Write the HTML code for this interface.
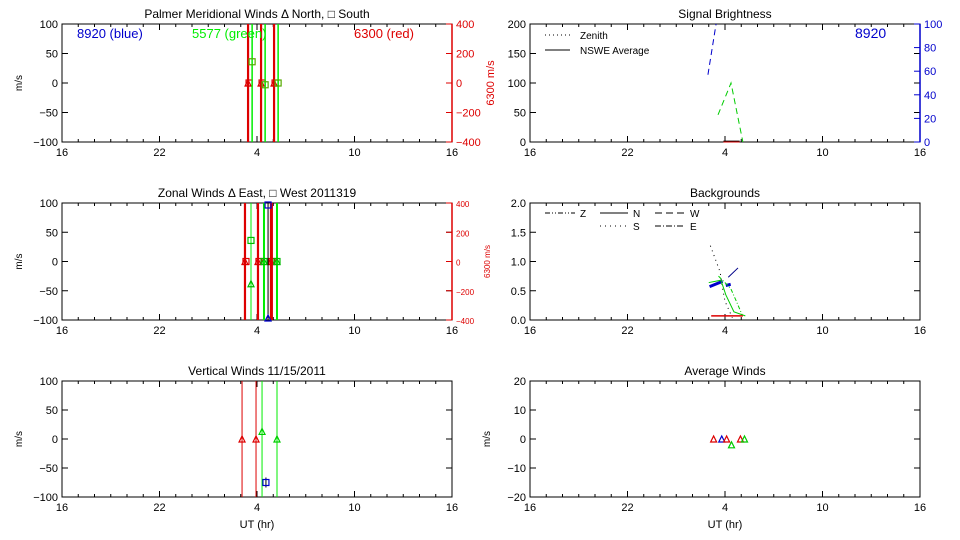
<!DOCTYPE html>
<html><head><meta charset="utf-8"><style>
body{margin:0;background:#fff}
svg{display:block;font-family:"Liberation Sans",sans-serif}
</style></head><body>
<svg id="c" width="960" height="540" viewBox="0 0 960 540"></svg>
<script>
// ---- data ----
const xTickLabels=["16","22","4","10","16"];
const xTickHours=[16,22,28,34,40];
// Meridional
const merRedHours=[27.45,28.25,29.05];
const merRedVals=[0,0,0];
const merGreenHours=[27.7,28.5,29.3];
const merGreenVals=[36,-3,0];
// Zonal
const zonRedHours=[27.26,28.06,28.86,28.95];
const zonRedVals=[0,0,0,0];
const zonGreenHours=[27.63,28.43,29.23];
const zonGreenSq=[36,0,0];
const zonGreenTri=[-38,0,0];
const zonBlueHours=[28.68];
const zonBlueSq=[100];
const zonBlueTri=[-100];
// Vertical
const verRedHours=[27.08,27.94];
const verRedVals=[0,0];
const verGreenHours=[28.31,29.23];
const verGreenVals=[13,0];
const verBlueHours=[28.55];
const verBlueVals=[-75];
// Signal brightness
const sigGreenHours=[27.57,28.37,29.1];
const sigGreenVals=[46,100,0];
const sigBlueHours=[26.95,27.45];
const sigBlueVals=[57,100];
const sigBlackHours=[27.9,28.9];
const sigBlackVals=[1,1];
// Backgrounds
const bgZenHours=[27.1,27.7,27.85,28.0,28.45];
const bgZenVals=[1.27,0.82,0.54,0.32,0.04];
const bgBlueHours=[27.05,27.85];
const bgBlueVals=[0.57,0.66];
const bgBlue2Hours=[28.05,28.35];
const bgBlue2Vals=[0.59,0.61];
const bgNavyHours=[28.2,28.8];
const bgNavyVals=[0.73,0.89];
const bgGreenHours=[27.0,27.75,28.05,28.55,29.25];
const bgGreenVals=[0.64,0.68,0.43,0.14,0.07];
const bgGreen2Hours=[27.6,28.35,28.7,29.05];
const bgGreen2Vals=[0.75,0.54,0.32,0.09];
const bgRedHours=[27.15,29.1];
const bgRedVals=[0.07,0.07];
// Average winds
const avgHours=[27.3,27.8,28.1,28.4,28.95,29.2];
const avgVals=[0,0,0,-2,0,0];
const avgColors=["#d00","#00c","#d00","#0c0","#d00","#0c0"];

// ---- drawing ----
const svg=document.getElementById('c');
const NS='http://www.w3.org/2000/svg';
function el(tag,attrs,parent){const e=document.createElementNS(NS,tag);for(const k in attrs)e.setAttribute(k,attrs[k]);(parent||svg).appendChild(e);return e;}
function txt(s,x,y,opt,parent){const t=el('text',Object.assign({x:x,y:y,'font-size':11,fill:'#000','text-anchor':'middle'},opt||{}),parent);t.textContent=s;return t;}
const rows=[[24,142],[203,320],[381,497]];
const cols=[[62,452],[530,920]];
function panel(name,c,r,ymin,ymax,ystep,title){
  const g=el('g',{});
  
  
  const [x0,x1]=cols[c],[y0,y1]=rows[r];
  const X=h=>x0+(h-16)/24*(x1-x0);
  const Y=v=>y1-(v-ymin)/(ymax-ymin)*(y1-y0);
  el('rect',{x:x0,y:y0,width:x1-x0,height:y1-y0,fill:'none',stroke:'#000','stroke-width':1},g);
  for(let h=16;h<=40;h++){const maj=(h-16)%6===0;const L=maj?6:3;
    el('line',{x1:X(h),x2:X(h),y1:y1,y2:y1-L,stroke:'#000'},g);
    el('line',{x1:X(h),x2:X(h),y1:y0,y2:y0+L,stroke:'#000'},g);}
  xTickLabels.forEach((s,i)=>{const t=txt(s,X(xTickHours[i]),y1+14,{},g);});
  for(let v=ymin;v<=ymax+1e-9;v+=ystep){
    el('line',{x1:x0,x2:x0+6,y1:Y(v),y2:Y(v),stroke:'#000'},g);
    el('line',{x1:x1,x2:x1-6,y1:Y(v),y2:Y(v),stroke:'#000'},g);
    const lab=ystep<1?v.toFixed(1):String(Math.round(v)).replace('-','\u2212');
    const t=txt(lab,x0-4,Y(v)+4,{'text-anchor':'end'},g);
  }
  if(title){const t=txt(title,(x0+x1)/2,y0-6,{'font-size':12},g);}
  return {g,X,Y,x0,x1,y0,y1};
}
function tri(p,x,y,col){el('path',{d:`M${x-3},${y+3}L${x},${y-3}L${x+3},${y+3}Z`,fill:'none',stroke:col,'stroke-width':1.2},p.g);}
function sq(p,x,y,col){el('rect',{x:x-3,y:y-3,width:6,height:6,fill:'none',stroke:col,'stroke-width':1.2},p.g);}
function vbar(p,x,col,w){el('line',{x1:x,x2:x,y1:p.y0,y2:p.y1,stroke:col,'stroke-width':w},p.g);}
function poly(p,hs,vs,col,dash,w){const pts=hs.map((h,i)=>p.X(h)+','+p.Y(vs[i])).join(' ');const a={points:pts,fill:'none',stroke:col,'stroke-width':w||1};if(dash)a['stroke-dasharray']=dash;return el('polyline',a,p.g);}
function ylab(p,s){const t=txt(s,p.x0-40,(p.y0+p.y1)/2,{transform:`rotate(-90 ${p.x0-40} ${(p.y0+p.y1)/2})`,'font-size':10},p.g);}
function redRight(p,small){
  const R=v=>p.y1-(v+400)/800*(p.y1-p.y0);
  for(let v=-400;v<=400;v+=200){el('line',{x1:p.x1,x2:p.x1-6,y1:R(v),y2:R(v),stroke:'#d00'},p.g);
    const t=txt(String(v).replace('-','\u2212'),p.x1+4,R(v)+4,{'text-anchor':'start',fill:'#d00','font-size':small?8:11},p.g);}
  el('line',{x1:p.x1,x2:p.x1,y1:p.y0,y2:p.y1,stroke:'#d00','stroke-width':1.5},p.g);
  const cx=p.x1+(small?38:42),cy=(p.y0+p.y1)/2;
  const t=txt('6300 m/s',cx,cy,{transform:`rotate(-90 ${cx} ${cy})`,fill:'#d00','font-size':small?8:11},p.g);
}

// Panel 1
let p=panel('meridional-winds-panel',0,0,-100,100,50,'Palmer Meridional Winds \u0394 North, \u25A1 South');
ylab(p,'m/s');redRight(p,false);
merRedHours.forEach((h,i)=>{vbar(p,p.X(h),'#d00',2.2);tri(p,p.X(h),p.Y(merRedVals[i]),'#d00');sq(p,p.X(h)+1,p.Y(merRedVals[i]),'#d00');});
merGreenHours.forEach((h,i)=>{vbar(p,p.X(h),'#0e0',1.5);sq(p,p.X(h),p.Y(merGreenVals[i]),'#5a0');});
txt('8920 (blue)',77,38,{'text-anchor':'start',fill:'#00c','font-size':13},p.g);
txt('5577 (green)',192,38,{'text-anchor':'start',fill:'#0e0','font-size':13},p.g);
txt('6300 (red)',354,38,{'text-anchor':'start',fill:'#d00','font-size':13},p.g);

// Panel 2
p=panel('zonal-winds-panel',0,1,-100,100,50,'Zonal Winds \u0394 East, \u25A1 West 2011319');
ylab(p,'m/s');redRight(p,true);
zonRedHours.forEach((h,i)=>{vbar(p,p.X(h),'#d00',i==3?1:2.2);if(i<3){tri(p,p.X(h),p.Y(zonRedVals[i]),'#d00');sq(p,p.X(h)+1,p.Y(zonRedVals[i]),'#d00');}});
zonGreenHours.forEach((h,i)=>{vbar(p,p.X(h),'#0e0',i==0?1:2);sq(p,p.X(h),p.Y(zonGreenSq[i]),'#0b0');tri(p,p.X(h),p.Y(zonGreenTri[i]),'#0b0');});
zonBlueHours.forEach((h,i)=>{vbar(p,p.X(h),'#000',1);sq(p,p.X(h),p.Y(zonBlueSq[i])+2,'#00c');tri(p,p.X(h),p.Y(zonBlueTri[i])-2,'#00c');});

// Panel 3
p=panel('vertical-winds-panel',0,2,-100,100,50,'Vertical Winds 11/15/2011');
ylab(p,'m/s');
verRedHours.forEach((h,i)=>{vbar(p,p.X(h),'#d00',1);tri(p,p.X(h),p.Y(verRedVals[i]),'#d00');});
verGreenHours.forEach((h,i)=>{vbar(p,p.X(h),'#0e0',1);tri(p,p.X(h),p.Y(verGreenVals[i]),'#0c0');});
verBlueHours.forEach((h,i)=>{el('line',{x1:p.X(h),x2:p.X(h),y1:p.Y(verBlueVals[i])-5,y2:p.Y(verBlueVals[i])+5,stroke:'#000'},p.g);sq(p,p.X(h),p.Y(verBlueVals[i]),'#00c');});
txt('UT (hr)',257,528,{},p.g);

// Signal brightness
p=panel('signal-brightness-panel',1,0,0,200,50,'Signal Brightness');
{const B=v=>p.y1-v/100*(p.y1-p.y0);
 for(let v=0;v<=100;v+=20){el('line',{x1:p.x1,x2:p.x1-6,y1:B(v),y2:B(v),stroke:'#00c'},p.g);txt(String(v),p.x1+4,B(v)+4,{'text-anchor':'start',fill:'#00c'},p.g);}
 el('line',{x1:p.x1,x2:p.x1,y1:p.y0,y2:p.y1,stroke:'#00c','stroke-width':1.5},p.g);
 const pts=sigBlueHours.map((h,i)=>p.X(h)+','+Math.max(p.y0,B(sigBlueVals[i]))).join(' ');
 el('polyline',{points:pts,fill:'none',stroke:'#00c','stroke-dasharray':'6,4'},p.g);}
poly(p,sigGreenHours,sigGreenVals,'#0c0','6,4');
poly(p,sigBlackHours,sigBlackVals,'#000','',1.5);
poly(p,sigBlackHours,[0,0],'#d00','',1);
txt('8920',855,38,{'text-anchor':'start',fill:'#00c','font-size':14},p.g);
el('line',{x1:545,x2:570,y1:35,y2:35,stroke:'#000','stroke-dasharray':'1,3'},p.g);
txt('Zenith',580,39,{'text-anchor':'start','font-size':10},p.g);
el('line',{x1:545,x2:570,y1:50,y2:50,stroke:'#000'},p.g);
txt('NSWE Average',580,54,{'text-anchor':'start','font-size':10},p.g);

// Backgrounds
p=panel('backgrounds-panel',1,1,0,2,0.5,'Backgrounds');
poly(p,bgZenHours,bgZenVals,'#000','1,4');
poly(p,bgBlueHours,bgBlueVals,'#00c','',3);
poly(p,bgBlue2Hours,bgBlue2Vals,'#00c','',3);
poly(p,bgNavyHours,bgNavyVals,'#008','',1);
poly(p,bgGreenHours,bgGreenVals,'#0c0','',1);
poly(p,bgGreen2Hours,bgGreen2Vals,'#0c0','4,2,1,2',1);
poly(p,bgRedHours,bgRedVals,'#d00','',1.5);
el('line',{x1:545,x2:575,y1:213,y2:213,stroke:'#000','stroke-dasharray':'5,2,1,2,1,2'},p.g);txt('Z',580,217,{'text-anchor':'start','font-size':10},p.g);
el('line',{x1:600,x2:628,y1:213,y2:213,stroke:'#000'},p.g);txt('N',633,217,{'text-anchor':'start','font-size':10},p.g);
el('line',{x1:655,x2:685,y1:213,y2:213,stroke:'#000','stroke-dasharray':'7,4'},p.g);txt('W',690,217,{'text-anchor':'start','font-size':10},p.g);
el('line',{x1:600,x2:628,y1:226,y2:226,stroke:'#000','stroke-dasharray':'1,4'},p.g);txt('S',633,230,{'text-anchor':'start','font-size':10},p.g);
el('line',{x1:655,x2:685,y1:226,y2:226,stroke:'#000','stroke-dasharray':'6,2,1,2'},p.g);txt('E',690,230,{'text-anchor':'start','font-size':10},p.g);

// Average winds
p=panel('average-winds-panel',1,2,-20,20,10,'Average Winds');
ylab(p,'m/s');
avgHours.forEach((h,i)=>{tri(p,p.X(h),p.Y(avgVals[i]),avgColors[i]);});
txt('UT (hr)',725,528,{},p.g);
</script>
</body></html>
